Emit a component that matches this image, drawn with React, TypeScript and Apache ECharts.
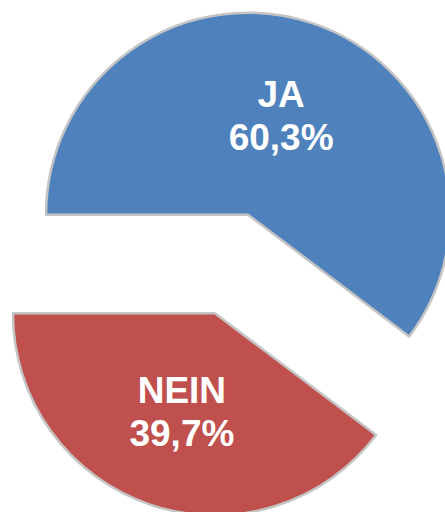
import React, { useEffect, useRef } from "react";
import * as echarts from "echarts";

const categories = ["JA", "NEIN"];
const values = [60.3, 39.7];
const colors = ["#4F81BD", "#C0504D"];

export default function App() {
  const ref = useRef<HTMLDivElement>(null);
  useEffect(() => {
    if (!ref.current) return;
    const chart = echarts.init(ref.current, undefined, { renderer: "svg" });
    chart.setOption({
      animation: false,
      backgroundColor: "#ffffff",
      series: [
        {
          type: "pie",
          center: [231.5, 264],
          radius: [0, 202],
          startAngle: 180,
          clockwise: true,
          selectedMode: "multiple",
          selectedOffset: 52,
          avoidLabelOverlap: false,
          emphasis: { disabled: true },
          itemStyle: { borderColor: "#c4c4c4", borderWidth: 2.5 },
          label: {
            show: true,
            position: "inside",
            color: "#ffffff",
            fontFamily: "Liberation Sans, Arial, sans-serif",
            fontWeight: "bold",
            fontSize: 37,
            lineHeight: 43,
            align: "center",
            formatter: (p: any) =>
              p.name + "\n" + String(p.value).replace(".", ",") + "%",
          },
          labelLine: { show: false },
          data: categories.map((c, i) => ({
            name: c,
            value: values[i],
            selected: true,
            itemStyle: { color: colors[i] },
          })),
        },
      ],
    });
    return () => chart.dispose();
  }, []);
  return (
    <div
      ref={ref}
      style={{ position: "absolute", left: 0, top: 0, width: 445, height: 512 }}
    />
  );
}
